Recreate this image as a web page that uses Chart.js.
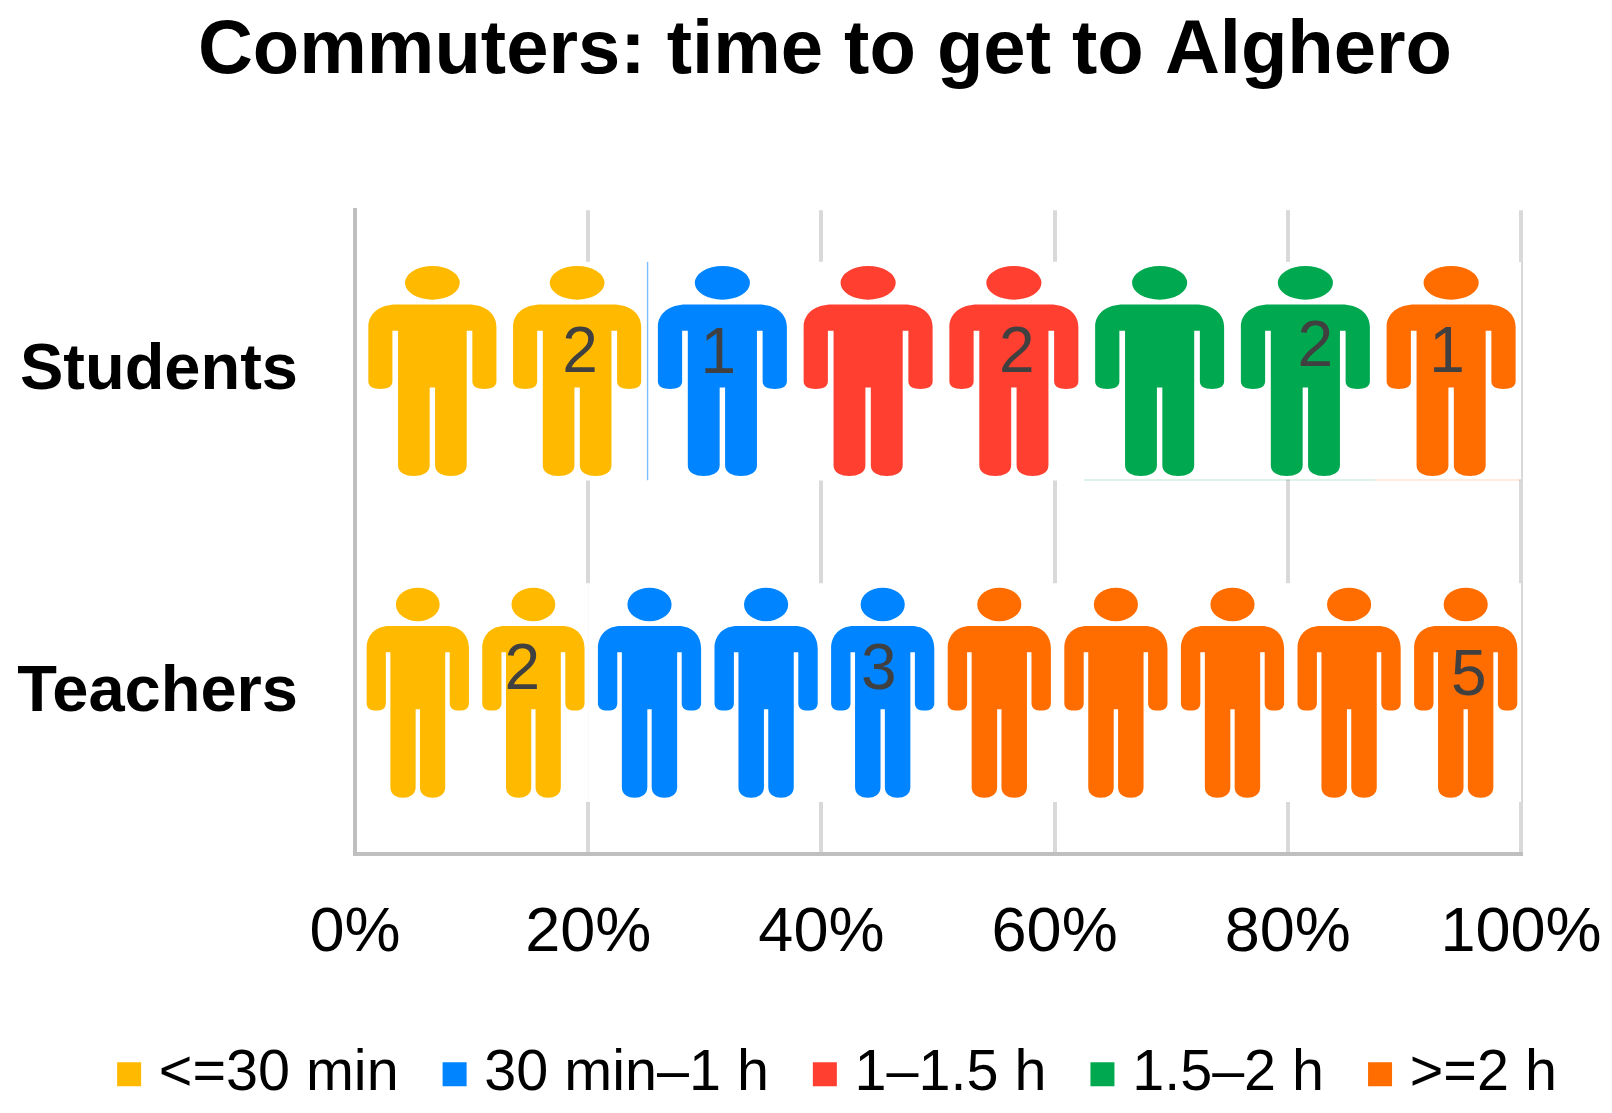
<!DOCTYPE html>
<html>
<head>
<meta charset="utf-8">
<title>Commuters: time to get to Alghero</title>
<script src="https://cdn.jsdelivr.net/npm/chart.js@4"></script>
<style>
    body { margin: 0; background: #fff; }
    #box { width: 1612px; height: 1113px; }
</style>
</head>
<body>
<div id="box"><canvas id="commuteChart"></canvas></div>
<script>
// Number of people per group
const groups = ['Students', 'Teachers'];
const seriesNames = ['<=30 min', '30 min–1 h', '1–1.5 h', '1.5–2 h', '>=2 h'];
const within30 = [2, 2];
const within60 = [1, 3];
const within90 = [2, 0];
const within120 = [2, 0];
const over120 = [1, 5];
const tickValues = [0, 20, 40, 60, 80, 100];

const seriesCounts = [within30, within60, within90, within120, over120];
const colors = ['#FFBA00', '#0084FF', '#FF3F30', '#00A84F', '#FF6D00'];
const FONT = '"Liberation Sans", Arial, sans-serif';

// count labels sit by hand in the original, dx/dy per series and group
const labelNudge = [
    [[3, 3], [-11, -1]],
    [[-4, 4], [-4, -1]],
    [[3, 3], [0, 0]],
    [[10, -3], [0, 0]],
    [[-4, 3], [3, 5]]
];

// share of each group, the bars are stacked up to 100%
const totals = groups.map((g, i) => seriesCounts.reduce((sum, s) => sum + s[i], 0));
const toShare = counts => counts.map((c, i) => c / totals[i] * 100);

// one figure in a 1x1 box, stretched to the slot it gets
function drawPerson(ctx, x, y, w, h) {
    ctx.save();
    ctx.translate(x, y);
    ctx.scale(w, h);
    ctx.beginPath();
    ctx.ellipse(0.5, 0.08, 0.214, 0.08, 0, 0, Math.PI * 2);
    ctx.moveTo(0.22, 0.183);
    ctx.lineTo(0.78, 0.183);
    ctx.bezierCurveTo(0.91, 0.183, 1, 0.225, 1, 0.29);
    ctx.lineTo(1, 0.55);
    ctx.bezierCurveTo(1, 0.575, 0.96, 0.585, 0.906, 0.585);
    ctx.bezierCurveTo(0.85, 0.585, 0.812, 0.575, 0.812, 0.55);
    ctx.lineTo(0.812, 0.308);
    ctx.lineTo(0.768, 0.308);
    ctx.lineTo(0.768, 0.95);
    ctx.bezierCurveTo(0.768, 0.985, 0.71, 1, 0.645, 1);
    ctx.bezierCurveTo(0.58, 1, 0.521, 0.985, 0.521, 0.95);
    ctx.lineTo(0.521, 0.579);
    ctx.lineTo(0.479, 0.579);
    ctx.lineTo(0.479, 0.95);
    ctx.bezierCurveTo(0.479, 0.985, 0.42, 1, 0.355, 1);
    ctx.bezierCurveTo(0.29, 1, 0.232, 0.985, 0.232, 0.95);
    ctx.lineTo(0.232, 0.308);
    ctx.lineTo(0.188, 0.308);
    ctx.lineTo(0.188, 0.55);
    ctx.bezierCurveTo(0.188, 0.575, 0.15, 0.585, 0.094, 0.585);
    ctx.bezierCurveTo(0.04, 0.585, 0, 0.575, 0, 0.55);
    ctx.lineTo(0, 0.29);
    ctx.bezierCurveTo(0, 0.225, 0.09, 0.183, 0.22, 0.183);
    ctx.closePath();
    ctx.fill();
    ctx.restore();
}

// Fill every bar with its people, count goes on the last one
const peoplePlugin = {
    id: 'people',
    afterLayout(chart) {
        // title and legend are off centre in the original
        chart.titleBlock.left = 38;
        chart.legend.left = 73;
    },
    afterDatasetsDraw(chart) {
        const ctx = chart.ctx;
        seriesCounts.forEach((counts, s) => {
            chart.getDatasetMeta(s).data.forEach((bar, g) => {
                const count = counts[g];
                if (!count) return;
                const slot = (bar.x - bar.base) / count;
                const w = slot * 0.885;
                const h = 210;
                const top = bar.y - h / 2;
                ctx.fillStyle = colors[s];
                for (let i = 0; i < count; i++) {
                    const cx = bar.base + slot * (i + 0.5) + 3;
                    drawPerson(ctx, cx - w / 2, top, w, h);
                }
            });
        });
        ctx.fillStyle = '#404040';
        ctx.font = '64px ' + FONT;
        ctx.textAlign = 'center';
        ctx.textBaseline = 'middle';
        seriesCounts.forEach((counts, s) => {
            chart.getDatasetMeta(s).data.forEach((bar, g) => {
                const count = counts[g];
                if (!count) return;
                const slot = (bar.x - bar.base) / count;
                const nudge = labelNudge[s][g];
                ctx.fillText(count, bar.x - slot / 2 + 3 + nudge[0], bar.y - 20 + nudge[1]);
            });
        });
    }
};

// thin bar edges left over in the original picture
function edgeWidth(ctx) {
    if (ctx.dataIndex !== 0) return 0;
    if (ctx.datasetIndex === 1) return { left: 2 };
    if (ctx.datasetIndex >= 3) return { bottom: 1 };
    return 0;
}

new Chart(document.getElementById('commuteChart'), {
    type: 'bar',
    plugins: [peoplePlugin],
    data: {
        labels: groups,
        datasets: seriesCounts.map((counts, s) => ({
            label: seriesNames[s],
            data: toShare(counts),
            backgroundColor: '#fff',
            borderColor: colors[s] + '88',
            borderWidth: edgeWidth,
            borderSkipped: false,
            barPercentage: 0.68,
            categoryPercentage: 1
        }))
    },
    options: {
        indexAxis: 'y',
        responsive: true,
        maintainAspectRatio: false,
        animation: false,
        layout: { padding: 0 },
        scales: {
            x: {
                stacked: true,
                min: 0,
                max: 100,
                afterBuildTicks: axis => { axis.ticks = tickValues.map(v => ({ value: v })); },
                afterFit: axis => {
                    axis.height = 137;
                    axis.paddingRight = 91;
                },
                grid: { color: '#d9d9d9', lineWidth: 4, drawTicks: false },
                border: { color: '#bfbfbf', width: 4, z: 1 },
                ticks: {
                    color: '#000',
                    padding: 42,
                    maxRotation: 0,
                    font: { family: FONT, size: 63 },
                    callback: value => value + '%'
                }
            },
            y: {
                stacked: true,
                afterFit: axis => { axis.width = 355; },
                grid: { display: false, drawTicks: false },
                border: { color: '#bfbfbf', width: 4, z: 1 },
                ticks: {
                    color: '#000',
                    padding: 57,
                    font: { family: FONT, size: 65, weight: 'bold' }
                }
            }
        },
        plugins: {
            tooltip: { enabled: false },
            title: {
                display: true,
                text: 'Commuters: time to get to Alghero',
                color: '#000',
                font: { family: FONT, size: 76, weight: 'bold' },
                padding: { top: 6, bottom: 113 }
            },
            legend: {
                position: 'bottom',
                labels: {
                    color: '#000',
                    font: { family: FONT, size: 57.5 },
                    boxWidth: 2,
                    boxHeight: 2,
                    padding: 55,
                    generateLabels: () => seriesNames.map((name, s) => ({
                        text: name,
                        fillStyle: colors[s],
                        strokeStyle: colors[s],
                        lineWidth: 22,
                        fontColor: '#000',
                        datasetIndex: s
                    }))
                }
            }
        }
    }
});
</script>
</body>
</html>
